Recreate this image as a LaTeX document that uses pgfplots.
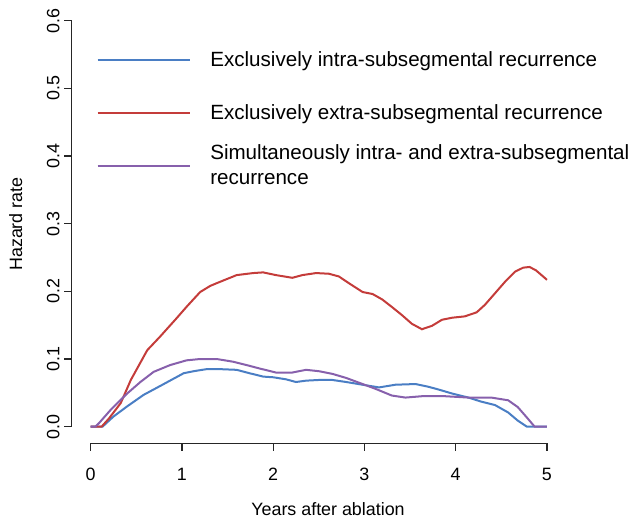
\documentclass[border=0pt]{standalone}
\usepackage{pgfplots}
\pgfplotsset{compat=1.18}
\usepackage{fontspec}
\setmainfont{Liberation Sans}
\definecolor{cblue}{RGB}{74,126,196}
\definecolor{cred}{RGB}{196,60,58}
\definecolor{cpurple}{RGB}{135,96,172}
\newcommand\fa{\fontsize{13.4pt}{16pt}\selectfont}
\newcommand\fl{\fontsize{15.45pt}{18.4pt}\selectfont}
\begin{document}
\begin{tikzpicture}
\useasboundingbox (-68.0pt,-70.0pt) rectangle (404.5pt,320.0pt);
\begin{axis}[
  at={(0pt,0pt)}, anchor=south west,
  scale only axis, width=342.2pt, height=304.5pt,
  xmin=0, xmax=5, ymin=0, ymax=0.6,
  clip=false,
  axis x line=bottom, axis y line=left,
  axis x line shift=12.6pt, axis y line shift=14.25pt,
  axis line style={-, line width=0.9pt, black!85},
  every tick/.style={line width=0.9pt, black!85},
  tick align=outside, major tick length=5.5pt,
  xtick={0,1,2,3,4,5}, ytick={0,0.1,0.2,0.3,0.4,0.5,0.6},
  /pgf/number format/assume math mode=true,
  tick label style={font=\fa},
  xticklabel style={yshift=-9.5pt},
  yticklabel style={/pgf/number format/fixed, /pgf/number format/fixed zerofill, /pgf/number format/precision=1, rotate=90, anchor=south},
  label style={font=\fa},
  xlabel={Years after ablation},
  ylabel={Hazard rate},
  xlabel style={at={(axis description cs:0.5202,-0.2200)}, anchor=base},
  ylabel style={at={(axis description cs:-0.150,0.499)}, anchor=base},
  legend style={at={(axis description cs:0,1)}, anchor=north west, xshift=4.5pt, yshift=-23pt,
    draw=none, fill=none, inner sep=0pt, outer sep=0pt, font=\fl,
    row sep=27.2pt, column sep=14.5pt, cells={anchor=west}, nodes={inner sep=0pt}},
  legend image code/.code={\draw[#1] (0pt,0pt) -- (69.2pt,0pt);},
  every axis plot/.append style={line width=1.5pt},
]
\addplot[cblue] coordinates {
(0,0) (0.13,0) (0.25,0.015) (0.40,0.030) (0.58,0.047) (0.76,0.060) (0.91,0.071)
(1.02,0.079) (1.13,0.082) (1.27,0.085) (1.42,0.085) (1.60,0.084) (1.74,0.079)
(1.89,0.074) (2.00,0.073) (2.14,0.070) (2.25,0.066) (2.36,0.068) (2.50,0.069)
(2.65,0.069) (2.80,0.066) (2.98,0.062) (3.16,0.058) (3.34,0.062) (3.56,0.063)
(3.70,0.059) (3.81,0.055) (3.96,0.049) (4.14,0.043) (4.28,0.037) (4.43,0.032)
(4.575,0.021) (4.68,0.009) (4.78,0) (5.0,0)};
\addlegendentry{Exclusively intra-subsegmental recurrence\vphantom{Ey}}
\addplot[cred] coordinates {
(0,0) (0.12,0) (0.20,0.012) (0.33,0.035) (0.44,0.069) (0.62,0.113) (0.76,0.133)
(0.94,0.160) (1.05,0.177) (1.20,0.199) (1.31,0.208) (1.38,0.212) (1.49,0.218)
(1.60,0.224) (1.78,0.227) (1.89,0.228) (2.03,0.224) (2.21,0.220) (2.32,0.224)
(2.47,0.227) (2.61,0.226) (2.72,0.222) (2.83,0.212) (2.98,0.199) (3.09,0.196)
(3.195,0.188) (3.30,0.177) (3.41,0.165) (3.52,0.152) (3.63,0.144) (3.74,0.149)
(3.85,0.158) (3.96,0.161) (4.10,0.163) (4.23,0.169) (4.32,0.180) (4.43,0.197)
(4.54,0.214) (4.65,0.229) (4.74,0.235) (4.81,0.236) (4.88,0.231) (4.975,0.220) (5.0,0.217)};
\addlegendentry{Exclusively extra-subsegmental recurrence\vphantom{Ey}}
\addplot[cpurple] coordinates {
(0,0) (0.05,0) (0.09,0.005) (0.22,0.025) (0.40,0.049) (0.545,0.066) (0.69,0.081)
(0.87,0.091) (1.05,0.098) (1.20,0.100) (1.38,0.100) (1.56,0.096) (1.71,0.091)
(1.85,0.086) (2.03,0.080) (2.21,0.080) (2.36,0.084) (2.50,0.082) (2.65,0.078)
(2.80,0.072) (2.94,0.065) (3.12,0.056) (3.30,0.046) (3.45,0.043) (3.63,0.045)
(3.885,0.045) (4.14,0.043) (4.39,0.043) (4.575,0.039) (4.68,0.029) (4.79,0.012)
(4.865,0) (5.0,0)};
\addlegendentry{\smash{\begin{tabular}[c]{@{}l@{}}Simultaneously intra- and extra-subsegmental\\recurrence\end{tabular}}\vphantom{Ey}}
\end{axis}
\end{tikzpicture}
\end{document}
